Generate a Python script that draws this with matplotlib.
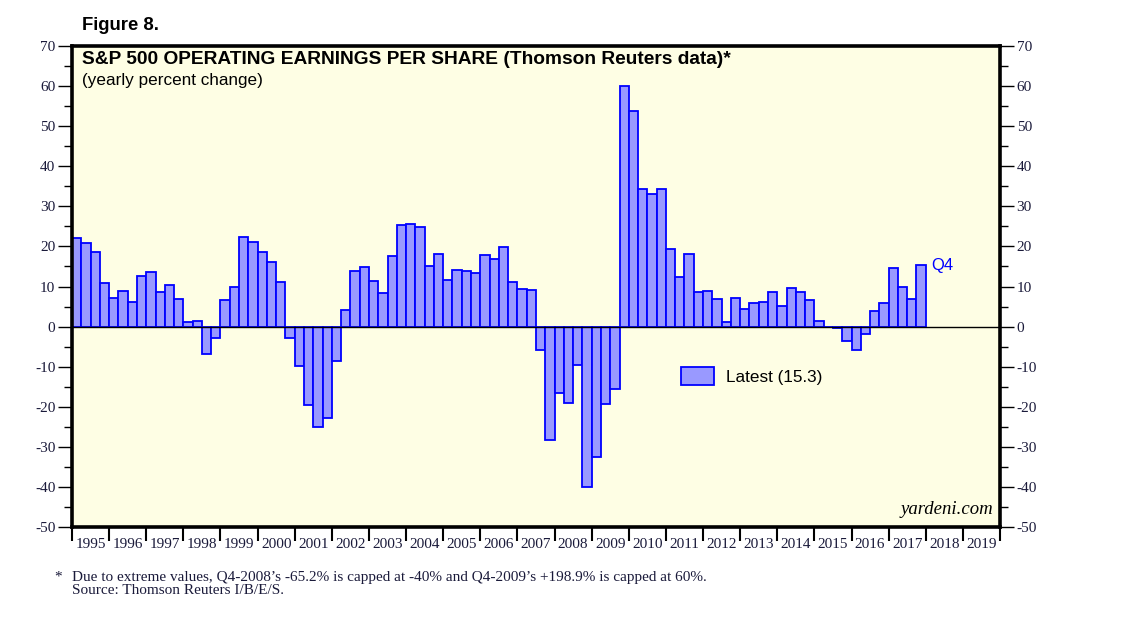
import numpy as np
import matplotlib.pyplot as plt
from matplotlib.ticker import MultipleLocator, FixedLocator, NullFormatter

# quarterly yearly % change, Q1-1995 .. Q4-2017
years = list(range(1995, 2018))
eps_growth = [
    22.0, 20.75, 18.5, 10.75,     # 1995
    7.25, 9.0, 6.25, 12.5,        # 1996
    13.5, 8.75, 10.25, 7.0,       # 1997
    1.25, 1.5, -6.75, -2.75,      # 1998
    6.75, 10.0, 22.25, 21.0,      # 1999
    18.5, 16.0, 11.0, -2.75,      # 2000
    -9.75, -19.5, -25.0, -22.75,  # 2001
    -8.5, 4.25, 13.75, 14.75,     # 2002
    11.3, 8.5, 17.5, 25.25,       # 2003
    25.5, 24.75, 15.0, 18.0,      # 2004
    11.5, 14.0, 13.75, 13.25,     # 2005
    17.75, 16.75, 19.75, 11.0,    # 2006
    9.5, 9.25, -5.75, -28.25,     # 2007
    -16.5, -19.0, -9.5, -40.0,    # 2008 (Q4 capped)
    -32.5, -19.25, -15.5, 60.0,   # 2009 (Q4 capped)
    53.75, 34.25, 33.0, 34.25,    # 2010
    19.25, 12.25, 18.0, 8.75,     # 2011
    9.0, 7.0, 1.25, 7.25,         # 2012
    4.5, 6.0, 6.25, 8.75,         # 2013
    5.25, 9.75, 8.75, 6.75,       # 2014
    1.5, 0.0, -0.25, -3.5,        # 2015
    -5.75, -1.75, 4.0, 6.0,       # 2016
    14.5, 10.0, 7.0, 15.3,        # 2017
]
axis_years = list(range(1995, 2020))
latest = eps_growth[-1]

sans = 'Liberation Sans'
serif = 'Liberation Serif'
plt.rcParams['axes.unicode_minus'] = False

fig = plt.figure(figsize=(11.38, 6.21), dpi=100)
ax = fig.add_axes([72 / 1138, 94 / 621, 928 / 1138, 481 / 621])
ax.set_facecolor('#fefee4')

n = len(eps_growth)
xpos = np.array([years[0] + 0.25 * i for i in range(n)])
ax.bar(xpos, eps_growth, width=0.25, align='edge', color='#9999ff',
       edgecolor='#0000ff', linewidth=1.3, zorder=2,
       label='Latest (%.1f)' % latest)
ax.axhline(0, color='black', linewidth=1.0, zorder=3)

ax.set_xlim(1995, 2020)
ax.set_ylim(-50, 70)

for s in ax.spines.values():
    s.set_linewidth(2.6)

# y axis both sides
ax.yaxis.set_major_locator(MultipleLocator(10))
ax.yaxis.set_minor_locator(MultipleLocator(5))
ax.tick_params(axis='y', which='major', direction='out', length=10, width=1,
               left=True, right=True, labelleft=True, labelright=True,
               labelsize=11, labelcolor='#1a1a3a', pad=2)
ax.tick_params(axis='y', which='minor', direction='out', length=6, width=1,
               left=True, right=True)
for lab in ax.get_yticklabels():
    lab.set_family(serif)

# x axis: ticks at year boundaries, labels centred in each year
ax.xaxis.set_major_locator(FixedLocator(axis_years + [2020]))
ax.xaxis.set_major_formatter(NullFormatter())
ax.xaxis.set_minor_locator(FixedLocator([y + 0.5 for y in axis_years]))
ax.set_xticklabels([str(y) for y in axis_years], minor=True,
                   family=serif, fontsize=11, color='#1a1a3a')
ax.tick_params(axis='x', which='major', direction='out', length=10, width=1.5)
ax.tick_params(axis='x', which='minor', length=0, pad=8)

# titles
fig.text(82 / 1138, 1 - 25 / 621, 'Figure 8.', family=sans, fontsize=13.3,
         fontweight='bold', va='center')
ax.text(0.011, 0.971, 'S&P 500 OPERATING EARNINGS PER SHARE (Thomson Reuters data)*',
        transform=ax.transAxes, family=sans, fontsize=13.8, fontweight='bold',
        va='center')
ax.text(0.011, 0.928, '(yearly percent change)', transform=ax.transAxes,
        family=sans, fontsize=12.3, va='center')

ax.annotate('Q4', xy=(xpos[-1] + 0.25, latest), xytext=(4, 0),
            textcoords='offset points', family=sans, fontsize=12,
            color='#0000ff', va='center', ha='left')

ax.text(0.993, 0.018, 'yardeni.com', transform=ax.transAxes, family=serif,
        style='italic', fontsize=13.5, ha='right', va='bottom')

leg = ax.legend(loc='center left', bbox_to_anchor=(0.64, 0.314), frameon=False,
                prop={'family': sans, 'size': 12.3}, handlelength=1.9,
                handleheight=1.3, handletextpad=0.7)

# footnote
fig.text(54 / 1138, 1 - 577 / 621, '*', family=serif, fontsize=11,
         color='#1a1a3a', va='center')
fig.text(72 / 1138, 1 - 577 / 621,
         'Due to extreme values, Q4-2008\u2019s -65.2% is capped at -40% and '
         'Q4-2009\u2019s +198.9% is capped at 60%.',
         family=serif, fontsize=11, color='#1a1a3a', va='center')
fig.text(72 / 1138, 1 - 590 / 621, 'Source: Thomson Reuters I/B/E/S.',
         family=serif, fontsize=11, color='#1a1a3a', va='center')

fig.savefig('out.png', dpi=100)
